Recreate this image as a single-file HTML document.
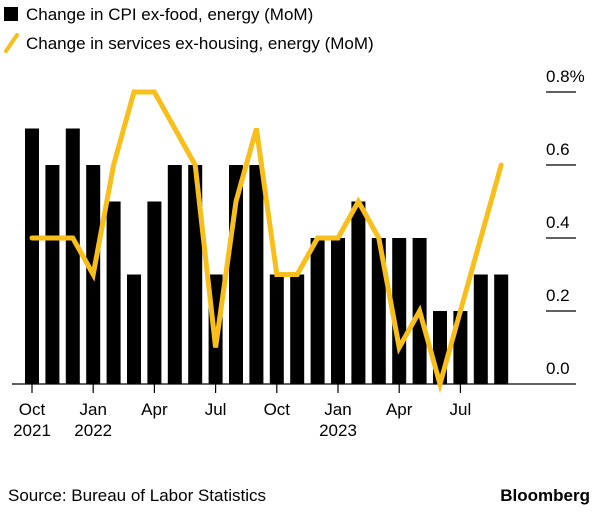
<!DOCTYPE html>
<html><head><meta charset="utf-8"><style>
body{margin:0;background:#fff;width:601px;height:521px;overflow:hidden;font-family:"Liberation Sans",sans-serif;}
svg{display:block}
</style></head><body>
<svg width="601" height="521">
<g>
<rect x="4" y="7" width="14" height="14" fill="#000"/>
<text x="26" y="20" font-size="17" fill="#000">Change in CPI ex-food, energy (MoM)</text>
<line x1="6" y1="51" x2="17" y2="35" stroke="#f8bf1a" stroke-width="4" stroke-linecap="round"/>
<text x="26" y="49" font-size="17" fill="#000">Change in services ex-housing, energy (MoM)</text>
</g>
<g id="plot"></g>
<text x="8" y="501" font-size="17" fill="#000">Source: Bureau of Labor Statistics</text>
<text x="590" y="501" font-size="17" font-weight="bold" text-anchor="end" fill="#000">Bloomberg</text>
</svg>
<script>
const months=["Oct","Nov","Dec","Jan","Feb","Mar","Apr","May","Jun","Jul","Aug","Sep","Oct","Nov","Dec","Jan","Feb","Mar","Apr","May","Jun","Jul","Aug","Sep"];
const cpiValues=[0.7,0.6,0.7,0.6,0.5,0.3,0.5,0.6,0.6,0.3,0.6,0.6,0.3,0.3,0.4,0.4,0.5,0.4,0.4,0.4,0.2,0.2,0.3,0.3];
const servicesValues=[0.4,0.4,0.4,0.3,0.6,0.8,0.8,0.7,0.6,0.1,0.5,0.7,0.3,0.3,0.4,0.4,0.5,0.4,0.1,0.2,0.0,0.2,0.4,0.6];
const yTicks=[0,0.2,0.4,0.6,0.8];
const yTickLabels=["0.0","0.2","0.4","0.6","0.8%"];
const xTickIdx=[0,3,6,9,12,15,18,21];
const xTickLabels=[["Oct","2021"],["Jan","2022"],["Apr",""],["Jul",""],["Oct",""],["Jan","2023"],["Apr",""],["Jul",""]];
const NS="http://www.w3.org/2000/svg";
const g=document.getElementById('plot');
const x=i=>32+i*20.4;
const y=v=>384-v*365;
function mk(t,a){const e=document.createElementNS(NS,t);for(const k in a)e.setAttribute(k,a[k]);g.appendChild(e);return e;}
yTicks.forEach((v,i)=>{
 if(v>0){const l=mk('line',{x1:546,x2:576,y1:y(v),y2:y(v),stroke:'#000','stroke-width':1.2});
 
 }
 const t=mk('text',{x:546,y:y(v)-10,'font-size':17,fill:'#000'});t.textContent=yTickLabels[i];
 
 
});
cpiValues.forEach((v,i)=>{
 const r=mk('rect',{x:x(i)-7,y:y(v),width:14,height:y(0)-y(v),fill:'#000'});
 
 
});
const ax=mk('line',{x1:12,x2:576,y1:y(0),y2:y(0),stroke:'#000','stroke-width':1.2});


xTickIdx.forEach((idx,i)=>{
 const l=mk('line',{x1:x(idx),x2:x(idx),y1:y(0),y2:y(0)+9,stroke:'#000','stroke-width':1.2});
 
 
 xTickLabels[i].forEach((s,j)=>{if(!s)return;
  const t=mk('text',{x:x(idx),y:415+j*21,'font-size':17,'text-anchor':'middle',fill:'#000'});t.textContent=s;
  
  });
});
const p=mk('polyline',{points:servicesValues.map((v,i)=>x(i)+','+y(v)).join(' '),fill:'none',stroke:'#f8bf1a','stroke-width':5,'stroke-linejoin':'miter','stroke-linecap':'round'});


</script>
</body></html>
